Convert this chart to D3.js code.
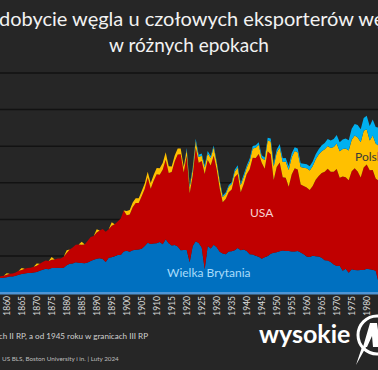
<!DOCTYPE html>
<html>
<head>
<meta charset="utf-8">
<script src="https://cdnjs.cloudflare.com/ajax/libs/d3/7.8.5/d3.min.js"></script>
<style>
  html, body { margin: 0; padding: 0; background: #262626; overflow: hidden; }
  svg { display: block; font-family: Lato, "Open Sans", sans-serif; }
</style>
</head>
<body>
<script>
// years 1857 - 1984, values in mln ton
var years = d3.range(1857, 1985);

var ukValues = [
  78, 80, 81,
  84, 88, 88, 92, 98, 102, 105, 107, 107, 110,
  112, 119, 125, 130, 128, 135, 135, 136, 134, 136,
  149, 157, 159, 166, 163, 162, 160, 165, 172, 179,
  185, 188, 184, 167, 191, 193, 199, 206, 205, 224,
  229, 223, 231, 234, 236, 240, 255, 272, 266, 268,
  269, 276, 264, 292, 270, 257, 260, 252, 231, 233,
  233, 166, 254, 280, 271, 247, 128, 255, 241, 262,
  248, 223, 213, 210, 224, 226, 232, 244, 231, 235,
  228, 210, 208, 202, 196, 185, 193, 200, 212, 218,
  220, 226, 230, 227, 228, 225, 225, 227, 219, 209,
  197, 194, 201, 199, 197, 190, 177, 175, 167, 153,
  145, 147, 119, 130, 109, 128, 124, 122, 124, 123,
  130, 128, 125, 119, 51
];

var usaValues = [
  8, 9, 11,
  14, 15, 16, 18, 21, 22, 25, 27, 29, 31,
  35, 38, 42, 46, 45, 45, 46, 50, 52, 60,
  68, 78, 87, 95, 100, 100, 103, 118, 132, 130,
  143, 152, 163, 165, 155, 172, 175, 182, 200, 225,
  193, 204, 236, 255, 253, 287, 311, 357, 301, 343,
  378, 368, 407, 434, 383, 402, 457, 502, 525, 423,
  515, 377, 384, 513, 438, 472, 520, 469, 454, 486,
  423, 346, 281, 302, 325, 338, 398, 404, 317, 357,
  419, 464, 529, 534, 562, 524, 484, 572, 544, 397,
  467, 485, 400, 400, 350, 421, 454, 446, 372, 374,
  378, 366, 381, 417, 440, 464, 484, 502, 494, 508,
  530, 480, 515, 500, 505, 535, 555, 540, 505, 560,
  570, 540, 545, 505, 560
];

// Polska: before 1900 only every 5 years
var plValues = [
  0, 0, 0,
  8, 0, 0, 0, 0, 10, 0, 0, 0, 0,
  12, 0, 0, 0, 0, 14, 0, 0, 0, 0,
  15, 0, 0, 0, 0, 16, 0, 0, 0, 0,
  18, 0, 0, 0, 0, 20, 0, 0, 0, 0,
  24, 24, 25, 26, 27, 28, 30, 32, 32, 33,
  34, 35, 37, 41, 37, 30, 32, 33, 31, 30,
  32, 33, 35, 36, 32, 29, 36, 38, 41, 46,
  38, 38, 29, 27, 29, 29, 30, 36, 38, 40,
  35, 45, 50, 55, 50, 27, 47, 59, 70, 74,
  78, 82, 84, 89, 92, 94, 95, 94, 95, 99,
  104, 107, 110, 113, 117, 119, 122, 124, 129, 135,
  140, 145, 151, 157, 162, 172, 179, 186, 193, 201,
  193, 163, 189, 191, 192
];

var auValues = [
  0, 0, 0,
  0, 0, 0, 0, 0, 0, 0, 0, 0, 0,
  0, 0, 0, 0, 0, 0, 0, 0, 0, 0,
  0, 0, 0, 0, 0, 0, 0, 0, 0, 0,
  0, 0, 0, 0, 0, 0, 0, 0, 0, 0,
  0, 0, 0, 0, 0, 0, 0, 0, 0, 0,
  0, 0, 0, 0, 0, 0, 0, 0, 0, 0,
  10, 11, 11, 12, 12, 12, 12, 12, 11, 10,
  8, 7, 7, 8, 9, 10, 11, 12, 12, 13,
  13, 14, 14, 14, 14, 14, 14, 15, 16, 16,
  17, 19, 20, 19, 20, 21, 20, 21, 21, 22,
  22, 24, 25, 27, 29, 32, 35, 38, 41, 44,
  46, 49, 52, 55, 56, 60, 63, 68, 70, 70,
  73, 80, 87, 90, 98
];

var seriesKeys = ["uk", "usa", "pl", "au"];
var seriesColors = ["#0070c0", "#c00000", "#ffc000", "#00b0f0"];
var tickYears = d3.range(1860, 1981, 5);
var gridValues = [200, 400, 600, 800, 1000, 1200];

var width = 378, height = 370;

var svg = d3.select("body").append("svg")
    .attr("width", width)
    .attr("height", height);

svg.append("rect")
    .attr("width", width)
    .attr("height", height)
    .attr("fill", "#262626");

var x = d3.scaleLinear().domain([1860, 1980]).range([6.7, 366.7]);
var y = d3.scaleLinear().domain([0, 1200]).range([292.6, 73]);

// grid
svg.append("g")
  .selectAll("line")
  .data(gridValues)
  .enter().append("line")
    .attr("x1", 0)
    .attr("x2", width)
    .attr("y1", function(d) { return y(d); })
    .attr("y2", function(d) { return y(d); })
    .attr("stroke", "#121212")
    .attr("stroke-width", 1.5);

// stacked data
var table = years.map(function(yr, i) {
    return { year: yr, uk: ukValues[i], usa: usaValues[i], pl: plValues[i], au: auValues[i] };
});
var stacked = d3.stack().keys(seriesKeys)(table);

var area = d3.area()
    .x(function(d) { return x(d.data.year); })
    .y0(function(d) { return y(d[0]); })
    .y1(function(d) { return y(d[1]); });

svg.append("g")
  .selectAll("path")
  .data(stacked)
  .enter().append("path")
    .attr("d", area)
    .attr("fill", function(d, i) { return seriesColors[i]; });

// axis line
svg.append("line")
    .attr("x1", 0).attr("x2", width)
    .attr("y1", y(0) + 0.6).attr("y2", y(0) + 0.6)
    .attr("stroke", "#4f95d6")
    .attr("stroke-width", 2.5);

// x axis
var xAxis = svg.append("g")
    .attr("transform", "translate(0,296)")
    .call(d3.axisBottom(x).tickValues(tickYears).tickFormat(d3.format("d")).tickSize(0));
xAxis.select(".domain").remove();
xAxis.selectAll("text")
    .attr("fill", "#d9d9d9")
    .attr("font-size", "8.5px")
    .attr("font-family", "Lato, sans-serif")
    .attr("transform", "rotate(-90)")
    .attr("text-anchor", "end")
    .attr("x", 0)
    .attr("y", 0)
    .attr("dy", "0.35em");

// series labels
svg.append("text")
    .attr("x", 250).attr("y", 217)
    .attr("fill", "#f6d2d2")
    .attr("font-size", "12px")
    .text("USA");

svg.append("text")
    .attr("x", 167).attr("y", 277)
    .attr("fill", "#a9dcfb")
    .attr("font-size", "12px")
    .text("Wielka Brytania");

svg.append("text")
    .attr("x", 355).attr("y", 161)
    .attr("fill", "#3a3a3a")
    .attr("font-size", "12px")
    .text("Polska");

// title
svg.append("text")
    .attr("x", 189).attr("y", 26)
    .attr("text-anchor", "middle")
    .attr("fill", "#f2f2f2")
    .attr("font-size", "20px")
    .text("Wydobycie węgla u czołowych eksporterów węgla");

svg.append("text")
    .attr("x", 189).attr("y", 52)
    .attr("text-anchor", "middle")
    .attr("fill", "#f2f2f2")
    .attr("font-size", "19px")
    .text("w różnych epokach");

// footnotes
svg.append("text")
    .attr("x", 148).attr("y", 339)
    .attr("text-anchor", "end")
    .attr("fill", "#d0d0d0")
    .attr("font-size", "8.1px")
    .text("Polska do 1945 roku w granicach II RP, a od 1945 roku w granicach III RP");

svg.append("text")
    .attr("x", 2).attr("y", 361)
    .attr("fill", "#bdbdbd")
    .attr("font-size", "6.3px")
    .text("US BLS, Boston University i in.  |  Luty 2024");

// logo
svg.append("text")
    .attr("x", 259).attr("y", 343)
    .attr("fill", "#ffffff")
    .attr("font-size", "25px")
    .attr("font-weight", "bold")
    .text("wysokie");

svg.append("circle")
    .attr("cx", 377).attr("cy", 335).attr("r", 19)
    .attr("fill", "none")
    .attr("stroke", "#ffffff")
    .attr("stroke-width", 3);

svg.append("path")
    .attr("d", "M363,347 L370,323 L377,323 L378,330 L378,347 L373,347 L372,336 L367,347 Z M366,347 L356,365 L362,347 Z")
    .attr("fill", "#ffffff");
</script>
</body>
</html>
